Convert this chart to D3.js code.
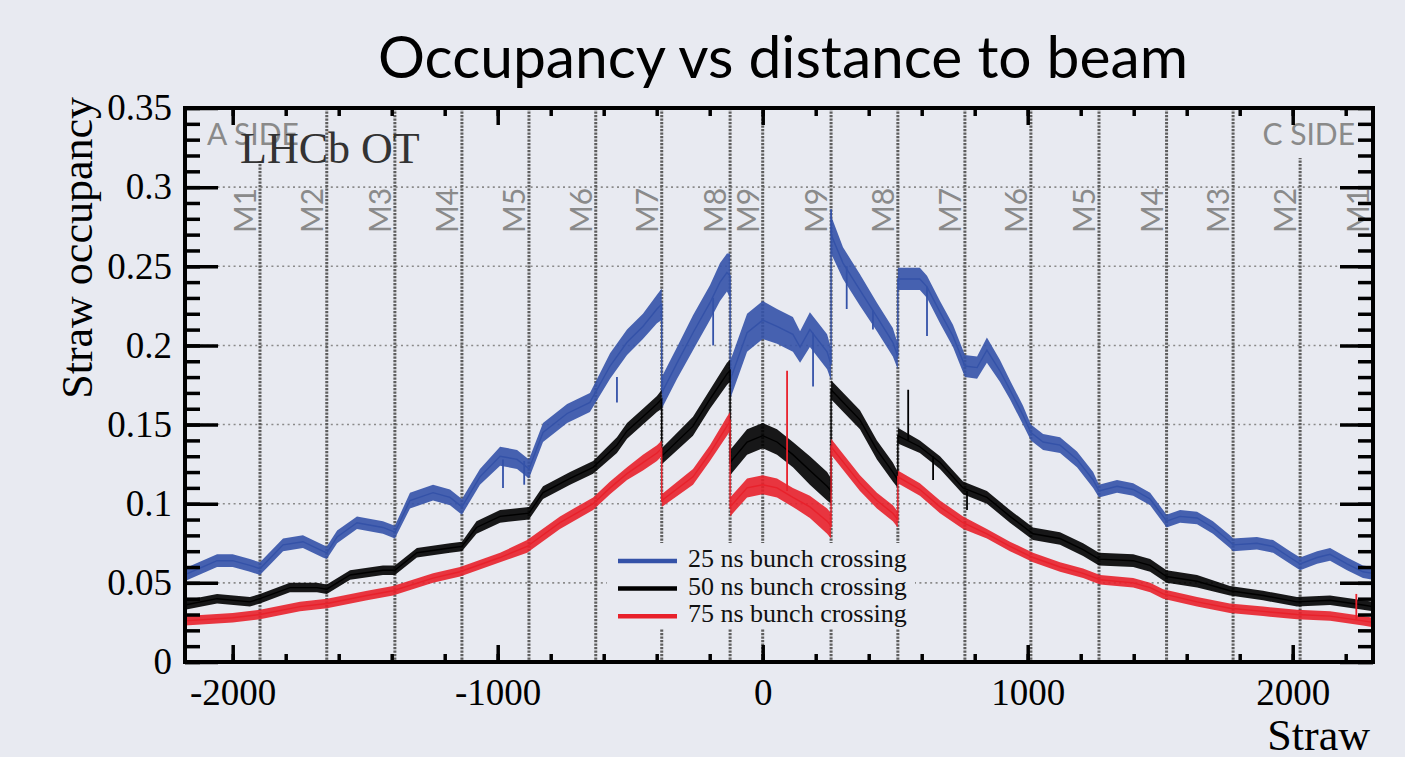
<!DOCTYPE html>
<html>
<head>
<meta charset="utf-8">
<script src="https://cdn.jsdelivr.net/npm/d3@7"></script>
<style>
  body { margin: 0; background: #e8eaf1; }
  svg { display: block; }
</style>
</head>
<body>
<svg id="chart" width="1405" height="757"></svg>
<script>
// straw occupancy per straw number
// each point: [straw, occupancy, half width of the noise band]
var blue25 = [
  [-2180, 0.055, 0.004], [-2169, 0.056, 0.004], [-2059, 0.064, 0.004], [-2000, 0.064, 0.004],
  [-1935, 0.061, 0.004], [-1897, 0.059, 0.004], [-1810, 0.074, 0.004], [-1735, 0.076, 0.004],
  [-1660, 0.070, 0.004], [-1645, 0.069, 0.004], [-1606, 0.079, 0.004], [-1531, 0.088, 0.004],
  [-1433, 0.085, 0.004], [-1388, 0.082, 0.004], [-1331, 0.102, 0.005], [-1244, 0.107, 0.005],
  [-1180, 0.104, 0.005], [-1135, 0.098, 0.005], [-1067, 0.117, 0.005], [-991, 0.130, 0.006],
  [-927, 0.128, 0.006], [-882, 0.122, 0.006], [-829, 0.145, 0.006], [-738, 0.157, 0.006],
  [-652, 0.164, 0.006], [-576, 0.187, 0.008], [-512, 0.202, 0.008], [-452, 0.212, 0.008],
  [-399, 0.223, 0.009], [-381, 0.226, 0.010],
  [-381, 0.170, 0.010], [-323, 0.189, 0.010], [-263, 0.208, 0.011], [-199, 0.227, 0.011],
  [-161, 0.240, 0.012], [-135, 0.246, 0.012], [-123, 0.244, 0.014],
  [-123, 0.178, 0.012], [-59, 0.208, 0.012], [0, 0.216, 0.012], [54, 0.212, 0.011],
  [114, 0.207, 0.011], [141, 0.199, 0.010], [178, 0.210, 0.011], [243, 0.196, 0.011], [258, 0.188, 0.010],
  [258, 0.270, 0.012], [303, 0.252, 0.010], [367, 0.235, 0.010], [431, 0.218, 0.009],
  [491, 0.202, 0.009], [510, 0.193, 0.008],
  [510, 0.242, 0.007], [593, 0.242, 0.007], [620, 0.237, 0.007], [669, 0.221, 0.007],
  [718, 0.206, 0.007], [763, 0.187, 0.007], [809, 0.186, 0.007], [846, 0.197, 0.008],
  [895, 0.184, 0.007], [933, 0.172, 0.006], [982, 0.156, 0.006], [1012, 0.145, 0.005],
  [1058, 0.139, 0.005], [1122, 0.137, 0.005], [1186, 0.128, 0.005], [1247, 0.115, 0.005],
  [1269, 0.108, 0.004], [1337, 0.111, 0.004], [1398, 0.109, 0.004], [1462, 0.103, 0.004],
  [1511, 0.092, 0.004], [1524, 0.089, 0.004], [1575, 0.092, 0.004], [1639, 0.091, 0.004],
  [1699, 0.085, 0.004], [1763, 0.076, 0.004], [1775, 0.074, 0.004], [1865, 0.075, 0.004],
  [1926, 0.073, 0.004], [1990, 0.066, 0.004], [2028, 0.062, 0.004], [2092, 0.066, 0.004],
  [2141, 0.068, 0.004], [2205, 0.062, 0.004], [2265, 0.057, 0.004], [2303, 0.056, 0.004]
];

var black50 = [
  [-2180, 0.036, 0.003], [-2059, 0.040, 0.003], [-1935, 0.038, 0.003], [-1897, 0.040, 0.003],
  [-1784, 0.047, 0.003], [-1682, 0.047, 0.003], [-1645, 0.046, 0.003], [-1557, 0.055, 0.003],
  [-1433, 0.058, 0.003], [-1388, 0.058, 0.003], [-1305, 0.069, 0.003], [-1180, 0.072, 0.003],
  [-1135, 0.073, 0.003], [-1080, 0.085, 0.004], [-991, 0.092, 0.004], [-882, 0.094, 0.004],
  [-829, 0.107, 0.004], [-727, 0.116, 0.004], [-640, 0.123, 0.004], [-550, 0.137, 0.005],
  [-512, 0.146, 0.005], [-452, 0.155, 0.005], [-399, 0.163, 0.005], [-381, 0.166, 0.006],
  [-381, 0.130, 0.005], [-263, 0.149, 0.006], [-199, 0.166, 0.006], [-135, 0.182, 0.007], [-123, 0.184, 0.007],
  [-123, 0.126, 0.008], [-59, 0.139, 0.008], [0, 0.143, 0.008], [54, 0.139, 0.008],
  [114, 0.131, 0.008], [178, 0.121, 0.009], [243, 0.111, 0.009], [258, 0.108, 0.008],
  [258, 0.172, 0.006], [367, 0.153, 0.006], [431, 0.134, 0.006], [491, 0.120, 0.006], [510, 0.115, 0.005],
  [510, 0.143, 0.005], [593, 0.136, 0.004], [669, 0.126, 0.004], [756, 0.110, 0.004],
  [846, 0.104, 0.004], [933, 0.092, 0.004], [1020, 0.081, 0.004], [1122, 0.078, 0.004],
  [1209, 0.071, 0.004], [1269, 0.065, 0.004], [1398, 0.064, 0.004], [1462, 0.061, 0.004],
  [1524, 0.054, 0.004], [1639, 0.051, 0.004], [1763, 0.045, 0.003], [1888, 0.042, 0.003],
  [2016, 0.038, 0.003], [2141, 0.039, 0.003], [2265, 0.036, 0.003], [2303, 0.035, 0.003]
];

var red75 = [
  [-2180, 0.026, 0.003], [-2000, 0.028, 0.003], [-1897, 0.030, 0.003], [-1746, 0.035, 0.003],
  [-1644, 0.037, 0.003], [-1493, 0.042, 0.003], [-1395, 0.045, 0.003], [-1244, 0.053, 0.003],
  [-1142, 0.057, 0.003], [-991, 0.066, 0.003], [-889, 0.073, 0.004], [-765, 0.088, 0.004],
  [-640, 0.100, 0.004], [-576, 0.110, 0.004], [-512, 0.119, 0.004], [-452, 0.126, 0.005],
  [-399, 0.132, 0.005], [-381, 0.135, 0.005],
  [-381, 0.102, 0.004], [-263, 0.117, 0.005], [-199, 0.132, 0.005], [-135, 0.149, 0.006], [-123, 0.152, 0.006],
  [-123, 0.098, 0.006], [-59, 0.110, 0.006], [0, 0.112, 0.006], [54, 0.110, 0.006],
  [114, 0.104, 0.006], [178, 0.098, 0.007], [243, 0.089, 0.008], [258, 0.086, 0.008],
  [258, 0.136, 0.005], [367, 0.113, 0.005], [431, 0.102, 0.005], [491, 0.094, 0.005], [510, 0.090, 0.005],
  [510, 0.117, 0.004], [593, 0.109, 0.004], [669, 0.098, 0.004], [756, 0.088, 0.004],
  [846, 0.081, 0.003], [933, 0.073, 0.003], [1020, 0.066, 0.003], [1122, 0.060, 0.003],
  [1209, 0.056, 0.003], [1273, 0.052, 0.003], [1398, 0.050, 0.003], [1462, 0.047, 0.003],
  [1511, 0.043, 0.003], [1639, 0.038, 0.003], [1763, 0.034, 0.003], [1888, 0.032, 0.003],
  [2016, 0.030, 0.003], [2141, 0.029, 0.003], [2265, 0.026, 0.003], [2303, 0.025, 0.003]
];

// single-straw spikes: [straw, from, to]
var blueSpikes = [[258, 0.270, 0.286], [620, 0.237, 0.206], [-550, 0.180, 0.164], [-187, 0.230, 0.200],
                  [190, 0.208, 0.174], [317, 0.250, 0.223], [416, 0.222, 0.210], [-980, 0.128, 0.110], [-900, 0.127, 0.112]];
var blackSpikes = [[549, 0.140, 0.172], [643, 0.130, 0.115], [771, 0.108, 0.096]];
var redSpikes = [[92, 0.108, 0.184], [2240, 0.027, 0.043]];

var seriesNames = ["25 ns bunch crossing", "50 ns bunch crossing", "75 ns bunch crossing"];
var seriesColors = ["#3452a8", "#000000", "#e8212b"];

// module boundaries (straw) and their labels
var moduleEdges = [-1897, -1645, -1388, -1135, -882, -630, -381, -123, 0, 258, 510, 763, 1012, 1269, 1524, 1775, 2028, 2303];
var moduleLabels = ["M1", "M2", "M3", "M4", "M5", "M6", "M7", "M8", "M9", "M9", "M8", "M7", "M6", "M5", "M4", "M3", "M2", "M1"];

var xTicks = [-2000, -1000, 0, 1000, 2000];
var yTicks = [0, 0.05, 0.1, 0.15, 0.2, 0.25, 0.3, 0.35];

var svg = d3.select("#chart"),
    margin = {top: 108, right: 32, bottom: 95, left: 185},
    plotL = margin.left,
    plotR = +svg.attr("width") - margin.right,
    plotT = margin.top,
    plotB = +svg.attr("height") - margin.bottom;

var serif = "'Liberation Serif', 'Times New Roman', serif",
    sans = "Lato, 'Open Sans', sans-serif",
    bg = "#e8eaf1";

var x = d3.scaleLinear().domain([-2180, 2303]).range([plotL, plotR]),
    y = d3.scaleLinear().domain([0, 0.35]).range([plotB, plotT]);

svg.append("rect").attr("width", 1405).attr("height", 757).attr("fill", bg);

// title
svg.append("text")
    .attr("x", 783).attr("y", 78)
    .attr("text-anchor", "middle")
    .attr("font-family", sans)
    .attr("font-size", 58)
    .attr("textLength", 810)
    .attr("lengthAdjust", "spacingAndGlyphs")
    .attr("fill", "#000")
    .text("Occupancy vs distance to beam");

// horizontal grid
svg.append("g").selectAll("line")
    .data(yTicks.slice(1, -1))
    .enter().append("line")
    .attr("x1", plotL).attr("x2", plotR)
    .attr("y1", function (d) { return y(d); })
    .attr("y2", function (d) { return y(d); })
    .attr("stroke", "#8a8a8a")
    .attr("stroke-width", 1.6)
    .attr("stroke-dasharray", "2,3.4");

// vertical module boundaries
svg.append("g").selectAll("line")
    .data(moduleEdges.slice(0, -1))
    .enter().append("line")
    .attr("x1", function (d) { return x(d); })
    .attr("x2", function (d) { return x(d); })
    .attr("y1", plotT).attr("y2", plotB)
    .attr("stroke", "#5e5e5e")
    .attr("stroke-width", 3)
    .attr("stroke-dasharray", "2.2,1.3");

// label boxes hide part of the grid
svg.append("rect").attr("x", plotL + 2).attr("y", plotT + 2).attr("width", 112).attr("height", 52).attr("fill", bg);
svg.append("rect").attr("x", x(1775) + 4).attr("y", plotT + 2).attr("width", plotR - x(1775) - 6).attr("height", 48).attr("fill", bg);

// legend background
svg.append("rect")
    .attr("x", 607).attr("y", 543).attr("width", 308).attr("height", 86)
    .attr("fill", bg);

// data bands
var band = d3.area()
    .x(function (d) { return x(d[0]); })
    .y0(function (d) { return y(d[1] - d[2]); })
    .y1(function (d) { return y(d[1] + d[2]); });

var mid = d3.line()
    .x(function (d) { return x(d[0]); })
    .y(function (d) { return y(d[1]); });

var allSeries = [blue25, black50, red75];
var allSpikes = [blueSpikes, blackSpikes, redSpikes];

var plot = svg.append("g");
allSeries.forEach(function (data, i) {
    plot.append("path")
        .datum(data)
        .attr("d", band)
        .attr("fill", seriesColors[i])
        .attr("fill-opacity", 0.9);
    plot.append("path")
        .datum(data)
        .attr("d", mid)
        .attr("fill", "none")
        .attr("stroke", seriesColors[i])
        .attr("stroke-width", 1.4);
    plot.append("g").selectAll("line")
        .data(allSpikes[i])
        .enter().append("line")
        .attr("x1", function (d) { return x(d[0]); })
        .attr("x2", function (d) { return x(d[0]); })
        .attr("y1", function (d) { return y(d[1]); })
        .attr("y2", function (d) { return y(d[2]); })
        .attr("stroke", seriesColors[i])
        .attr("stroke-width", 1.8);
});

// module labels, rotated, just left of each boundary
svg.append("g").selectAll("text")
    .data(moduleEdges)
    .enter().append("text")
    .attr("transform", function (d) { return "translate(" + (x(d) - 4) + ",233) rotate(-90)"; })
    .attr("font-family", sans)
    .attr("font-size", 30)
    .attr("fill", "#8a8a8a")
    .text(function (d, i) { return moduleLabels[i]; });

svg.append("text").attr("x", 207).attr("y", 145)
    .attr("font-family", sans).attr("font-size", 30).attr("fill", "#8a8a8a")
    .text("A SIDE");
svg.append("text").attr("x", 1355).attr("y", 145).attr("text-anchor", "end")
    .attr("font-family", sans).attr("font-size", 30).attr("fill", "#8a8a8a")
    .text("C SIDE");
svg.append("text").attr("x", 240).attr("y", 163)
    .attr("font-family", serif).attr("font-size", 44).attr("fill", "#333")
    .text("LHCb OT");

// axes: ticks point inward, mirrored on all four sides
var xMinor = d3.range(-2000, 2301, 200),
    yMinor = d3.range(0, 36).map(function (d) { return d / 100; });

function styleAxis(g) {
    g.select(".domain").remove();
    g.selectAll(".tick line").attr("stroke", "#000").attr("stroke-width", 3.5);
    g.selectAll(".tick text").attr("font-family", serif).attr("fill", "#000");
}

svg.append("g").attr("transform", "translate(0," + plotB + ")")
    .call(d3.axisBottom(x).tickValues(xMinor).tickSize(-8).tickFormat(""))
    .call(styleAxis);
svg.append("g").attr("transform", "translate(0," + plotB + ")")
    .call(d3.axisBottom(x).tickValues(xTicks).tickSize(-17).tickPadding(17)
        .tickFormat(function (d) { return String(d); }))
    .call(styleAxis)
    .selectAll("text").attr("font-size", 37);
svg.append("g").attr("transform", "translate(0," + plotT + ")")
    .call(d3.axisTop(x).tickValues(xMinor).tickSize(-8).tickFormat(""))
    .call(styleAxis);
svg.append("g").attr("transform", "translate(0," + plotT + ")")
    .call(d3.axisTop(x).tickValues(xTicks).tickSize(-17).tickFormat(""))
    .call(styleAxis);

svg.append("g").attr("transform", "translate(" + plotL + ",0)")
    .call(d3.axisLeft(y).tickValues(yMinor).tickSize(-15).tickFormat(""))
    .call(styleAxis);
svg.append("g").attr("transform", "translate(" + plotL + ",0)")
    .call(d3.axisLeft(y).tickValues(yTicks).tickSize(-33).tickPadding(13)
        .tickFormat(function (d) { return String(+d.toFixed(2)); }))
    .call(styleAxis)
    .selectAll("text").attr("font-size", 37);
svg.append("g").attr("transform", "translate(" + plotR + ",0)")
    .call(d3.axisRight(y).tickValues(yMinor).tickSize(-15).tickFormat(""))
    .call(styleAxis);
svg.append("g").attr("transform", "translate(" + plotR + ",0)")
    .call(d3.axisRight(y).tickValues(yTicks).tickSize(-33).tickFormat(""))
    .call(styleAxis);

// frame
svg.append("rect")
    .attr("x", plotL).attr("y", plotT)
    .attr("width", plotR - plotL).attr("height", plotB - plotT)
    .attr("fill", "none").attr("stroke", "#000").attr("stroke-width", 4);

// axis titles
svg.append("text")
    .attr("x", 1370).attr("y", 750)
    .attr("text-anchor", "end")
    .attr("font-family", serif).attr("font-size", 44)
    .text("Straw");
svg.append("text")
    .attr("transform", "translate(92,97) rotate(-90)")
    .attr("text-anchor", "end")
    .attr("font-family", serif).attr("font-size", 44)
    .text("Straw occupancy");

// legend
var legend = svg.append("g").attr("transform", "translate(618,561)");
seriesNames.forEach(function (name, i) {
    var row = legend.append("g").attr("transform", "translate(0," + (i * 27.6) + ")");
    row.append("line")
        .attr("x1", 0).attr("x2", 59)
        .attr("stroke", seriesColors[i]).attr("stroke-width", 4.5);
    row.append("text")
        .attr("x", 70).attr("y", 6)
        .attr("font-family", serif).attr("font-size", 26)
        .attr("fill", "#111")
        .text(name);
});
</script>
</body>
</html>
